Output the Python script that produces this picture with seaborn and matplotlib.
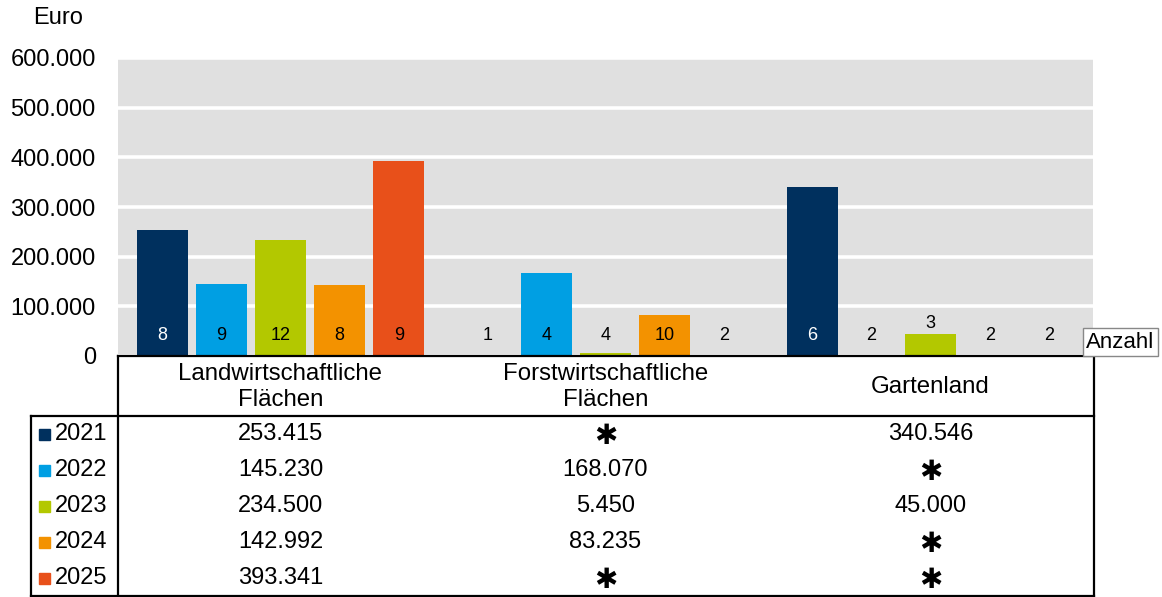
import numpy as np
import pandas as pd
import matplotlib
matplotlib.use("Agg")
import matplotlib.pyplot as plt
from matplotlib.patches import Rectangle
import seaborn as sns

# ---------------- data ----------------
categories = ["Landwirtschaftliche\nFlächen", "Forstwirtschaftliche\nFlächen", "Gartenland"]
years = ["2021", "2022", "2023", "2024", "2025"]
values_2021 = [253415, np.nan, 340546]
values_2022 = [145230, 168070, np.nan]
values_2023 = [234500, 5450, 45000]
values_2024 = [142992, 83235, np.nan]
values_2025 = [393341, np.nan, np.nan]
counts_2021 = [8, 1, 6]
counts_2022 = [9, 4, 2]
counts_2023 = [12, 4, 3]
counts_2024 = [8, 10, 2]
counts_2025 = [9, 2, 2]
colors = ["#00305e", "#009fe3", "#b3c800", "#f39200", "#e8501a"]
y_ticks = [0, 100000, 200000, 300000, 400000, 500000, 600000]
missing_mark = "✱"

values = [values_2021, values_2022, values_2023, values_2024, values_2025]
counts = [counts_2021, counts_2022, counts_2023, counts_2024, counts_2025]

rows = []
for j, y in enumerate(years):
    for i, c in enumerate(categories):
        rows.append({"Kategorie": c, "Jahr": y, "Euro": values[j][i], "Anzahl": counts[j][i]})
df = pd.DataFrame(rows)

def de(v):
    return f"{v:,.0f}".replace(",", ".")

# ---------------- figure ----------------
W, H = 1162, 597
sns.set_theme(style="white")
plt.rcParams["font.family"] = ["Liberation Sans", "DejaVu Sans"]
plt.rcParams["text.color"] = "black"
plt.rcParams["ytick.color"] = "black"
plt.rcParams["ytick.labelcolor"] = "black"

fig = plt.figure(figsize=(W / 100, H / 100), dpi=100)
L, R, T, B = 118, 1093, 58, 356
ax = fig.add_axes([L / W, 1 - B / H, (R - L) / W, (B - T) / H])
ax.set_facecolor("#e0e0e0")

width = 0.91
sns.barplot(data=df, x="Kategorie", y="Euro", hue="Jahr", order=categories,
            hue_order=years, palette=dict(zip(years, colors)), width=width,
            gap=0.14, saturation=1, errorbar=None, legend=False, ax=ax,
            linewidth=0, zorder=3)

ax.set_ylim(0, 600000)
ax.set_xlim(-0.5, 2.5)
ax.set_yticks(y_ticks)
ax.set_yticklabels([de(t) for t in y_ticks], fontsize=17, color="black")
ax.tick_params(axis="y", length=0, pad=16)
ax.set_xticks([])
ax.set_xlabel("")
ax.set_ylabel("")
ax.grid(axis="y", color="white", linewidth=2.6, zorder=1)
ax.set_axisbelow(True)
for s in ["left", "right", "top"]:
    ax.spines[s].set_visible(False)
ax.spines["bottom"].set_color("black")
ax.spines["bottom"].set_linewidth(1.6)
ax.spines["bottom"].set_zorder(5)

# count labels
pitch = width / len(years)
for j, y in enumerate(years):
    for i, c in enumerate(categories):
        v = values[j][i]
        xc = i - width / 2 + pitch / 2 + j * pitch
        base = 0 if np.isnan(v) else v
        ypos = max(42000, base + 21000) if base < 70000 else 42000
        col = "white" if (j == 0 and not np.isnan(v) and v > 70000) else "black"
        ax.text(xc, ypos, str(counts[j][i]), ha="center", va="center",
                fontsize=13, color=col, zorder=6)

fig.text(58 / W, 1 - 18 / H, "Euro", ha="center", va="center", fontsize=17,
         color="black")
fig.text(1086 / W, 1 - 342 / H, "Anzahl", ha="left", va="center", fontsize=16,
         color="black",
         bbox=dict(boxstyle="square,pad=0.15", facecolor="white",
                   edgecolor="#888888", linewidth=1))

# ---------------- table ----------------
tx = fig.add_axes([0, 0, 1, 1], zorder=-1)
tx.set_xlim(0, W)
tx.set_ylim(H, 0)
tx.axis("off")
lw = 1.6
kw = dict(color="black", linewidth=lw, solid_capstyle="projecting")
tx.plot([L, L], [B, 596], **kw)
tx.plot([1094, 1094], [B, 596], **kw)
tx.plot([31, 1094], [416, 416], **kw)
tx.plot([31, 1094], [596, 596], **kw)
tx.plot([31, 31], [416, 596], **kw)

col_w = (R - L) / 3
col_centers = [L + col_w * (i + 0.5) for i in range(3)]
for i, c in enumerate(categories):
    tx.text(col_centers[i], 387, c, ha="center", va="center", fontsize=17.3,
            linespacing=1.2, color="black")

row_h = 36
for j, y in enumerate(years):
    yc = 416 + row_h * (j + 0.5)
    tx.add_patch(Rectangle((39, yc - 5.5), 11, 11, color=colors[j]))
    tx.text(55, yc, y, ha="left", va="center", fontsize=17, color="black")
    for i in range(3):
        v = values[j][i]
        if np.isnan(v):
            tx.text(col_centers[i], yc + 1.5, missing_mark, ha="center",
                    va="center", fontsize=20, family=["DejaVu Sans"],
                    color="black")
        else:
            tx.text(col_centers[i], yc, de(v), ha="center", va="center",
                    fontsize=17, color="black")

fig.savefig("out.png", dpi=100, facecolor="white")
